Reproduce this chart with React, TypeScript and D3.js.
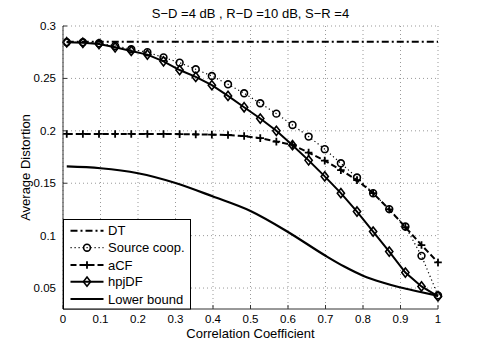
import React, { useEffect, useRef } from "react";
import { select, scaleLinear, line, curveMonotoneX, symbol, symbolCircle } from "d3";

// correlation coefficients where the simulated curves are sampled
const corrX = [
  0.01, 0.053, 0.096, 0.139, 0.182, 0.225, 0.268, 0.311, 0.354, 0.397, 0.44, 0.483,
  0.526, 0.569, 0.612, 0.655, 0.698, 0.741, 0.784, 0.827, 0.87, 0.913, 0.956, 1.0
];

const dtValues = [
  0.285, 0.285, 0.285, 0.285, 0.285, 0.285, 0.285, 0.285, 0.285, 0.285, 0.285, 0.285,
  0.285, 0.285, 0.285, 0.285, 0.285, 0.285, 0.285, 0.285, 0.285, 0.285, 0.285, 0.285
];

const sourceCoopValues = [
  0.2845, 0.2845, 0.2835, 0.281, 0.2778, 0.275, 0.27, 0.265, 0.2587, 0.2523, 0.2444, 0.2358,
  0.2263, 0.2164, 0.2056, 0.1945, 0.1825, 0.169, 0.1554, 0.1405, 0.1253, 0.1087, 0.0807, 0.043
];

const acfValues = [
  0.197, 0.197, 0.197, 0.197, 0.197, 0.197, 0.197, 0.1968, 0.1966, 0.1963, 0.196, 0.195,
  0.193, 0.1897, 0.1866, 0.1792, 0.1716, 0.1625, 0.153, 0.1405, 0.125, 0.108, 0.091, 0.0744
];

const hpjdfValues = [
  0.2845, 0.284, 0.2828, 0.2797, 0.2762, 0.2727, 0.2663, 0.258, 0.2514, 0.2435, 0.2333, 0.2225,
  0.2117, 0.2, 0.1863, 0.1718, 0.1565, 0.1405, 0.123, 0.1039, 0.0848, 0.0648, 0.0515, 0.042
];

// lower bound is a smooth curve without markers
const lowerX = [0.01, 0.1, 0.2, 0.3, 0.4, 0.5, 0.6, 0.7, 0.75, 0.8, 0.85, 0.9, 0.95, 1.0];
const lowerValues = [
  0.166, 0.1643, 0.1595, 0.1502, 0.1373, 0.1235, 0.1035, 0.0808, 0.0705, 0.0618, 0.0555,
  0.0505, 0.0465, 0.0426
];

const xTicks = [0, 0.1, 0.2, 0.3, 0.4, 0.5, 0.6, 0.7, 0.8, 0.9, 1];
const yTicks = [0.05, 0.1, 0.15, 0.2, 0.25, 0.3];

const legendLabels = ["DT", "Source coop.", "aCF", "hpjDF", "Lower bound"];

const WIDTH = 485;
const HEIGHT = 348;
const FONT = "'Liberation Sans', Arial, Helvetica, sans-serif";

function drawMarker(g, kind, x, y) {
  if (kind === "circle") {
    g.append("circle")
      .attr("cx", x)
      .attr("cy", y)
      .attr("r", 3.4)
      .attr("fill", "none")
      .attr("stroke", "#000")
      .attr("stroke-width", 1.6);
  } else if (kind === "plus") {
    g.append("path")
      .attr("d", `M${x - 3.8},${y}H${x + 3.8}M${x},${y - 3.8}V${y + 3.8}`)
      .attr("stroke", "#000")
      .attr("stroke-width", 1.8);
  } else if (kind === "diamond") {
    g.append("path")
      .attr("d", `M${x},${y - 4.6}L${x + 3.6},${y}L${x},${y + 4.6}L${x - 3.6},${y}Z`)
      .attr("fill", "none")
      .attr("stroke", "#000")
      .attr("stroke-width", 1.6);
  }
}

function DistortionChart() {
  const svgRef = useRef(null);

  useEffect(() => {
    const svg = select(svgRef.current);
    svg.selectAll("*").remove();

    const left = 63;
    const right = 438;
    const top = 26;
    const bottom = 309;

    const xScale = scaleLinear().domain([0, 1]).range([left, right]);
    const yScale = scaleLinear().domain([0.03, 0.3]).range([bottom, top]);

    // dotted grid
    const grid = svg.append("g");
    xTicks.forEach(t => {
      grid.append("line")
        .attr("x1", xScale(t)).attr("x2", xScale(t))
        .attr("y1", top).attr("y2", bottom)
        .attr("stroke", "#999").attr("stroke-width", 1)
        .attr("stroke-dasharray", "1,3");
    });
    yTicks.forEach(t => {
      grid.append("line")
        .attr("x1", left).attr("x2", right)
        .attr("y1", yScale(t)).attr("y2", yScale(t))
        .attr("stroke", "#999").attr("stroke-width", 1)
        .attr("stroke-dasharray", "1,3");
    });

    const series = [
      { xs: corrX, ys: dtValues, dash: "7,3,2,3", width: 2, marker: null },
      { xs: corrX, ys: sourceCoopValues, dash: "1.2,2.8", width: 1.2, marker: "circle" },
      { xs: corrX, ys: acfValues, dash: "6,3", width: 2, marker: "plus" },
      { xs: corrX, ys: hpjdfValues, dash: null, width: 2, marker: "diamond" },
      { xs: lowerX, ys: lowerValues, dash: null, width: 2.2, marker: null, smooth: true }
    ];

    series.forEach(s => {
      const pts = s.xs.map((x, i) => [xScale(x), yScale(s.ys[i])]);
      const gen = line();
      if (s.smooth) gen.curve(curveMonotoneX);
      svg.append("path")
        .attr("d", gen(pts))
        .attr("fill", "none")
        .attr("stroke", "#000")
        .attr("stroke-width", s.width)
        .attr("stroke-dasharray", s.dash);
      if (s.marker) {
        const mg = svg.append("g");
        pts.forEach(p => drawMarker(mg, s.marker, p[0], p[1]));
      }
    });

    // axes (no box)
    const axes = svg.append("g");
    axes.append("line")
      .attr("x1", left).attr("x2", left).attr("y1", top).attr("y2", bottom)
      .attr("stroke", "#333").attr("stroke-width", 1);
    axes.append("line")
      .attr("x1", left).attr("x2", right).attr("y1", bottom).attr("y2", bottom)
      .attr("stroke", "#333").attr("stroke-width", 1);

    yTicks.forEach(t => {
      axes.append("line")
        .attr("x1", left).attr("x2", left + 4)
        .attr("y1", yScale(t)).attr("y2", yScale(t))
        .attr("stroke", "#333");
      axes.append("text")
        .attr("x", left - 7)
        .attr("y", yScale(t))
        .attr("dy", "0.35em")
        .attr("text-anchor", "end")
        .attr("font-size", 11.5)
        .attr("font-family", FONT)
        .text(String(t));
    });
    xTicks.forEach(t => {
      axes.append("line")
        .attr("x1", xScale(t)).attr("x2", xScale(t))
        .attr("y1", bottom).attr("y2", bottom - 4)
        .attr("stroke", "#333");
      axes.append("text")
        .attr("x", xScale(t))
        .attr("y", bottom + 14)
        .attr("text-anchor", "middle")
        .attr("font-size", 11.5)
        .attr("font-family", FONT)
        .text(String(t));
    });

    // labels
    svg.append("text")
      .attr("x", (left + right) / 2)
      .attr("y", 18)
      .attr("text-anchor", "middle")
      .attr("font-size", 13)
      .attr("font-family", FONT)
      .text("S\u2212D =4 dB , R\u2212D =10 dB, S\u2212R =4");
    svg.append("text")
      .attr("x", (left + right) / 2)
      .attr("y", 338)
      .attr("text-anchor", "middle")
      .attr("font-size", 13)
      .attr("font-family", FONT)
      .text("Correlation Coefficient");
    svg.append("text")
      .attr("transform", `translate(30, ${(top + bottom) / 2}) rotate(-90)`)
      .attr("text-anchor", "middle")
      .attr("font-size", 13)
      .attr("font-family", FONT)
      .text("Average Distortion");

    // legend
    const legend = svg.append("g");
    legend.append("rect")
      .attr("x", left + 0.5).attr("y", 219.5)
      .attr("width", 127).attr("height", bottom - 219.5)
      .attr("fill", "#fff").attr("stroke", "#000").attr("stroke-width", 1);
    const rowY = [230.7, 247.7, 265, 281.7, 299];
    legendLabels.forEach((label, i) => {
      const s = series[i];
      const y = rowY[i];
      legend.append("line")
        .attr("x1", 70.5).attr("x2", 103.5).attr("y1", y).attr("y2", y)
        .attr("stroke", "#000")
        .attr("stroke-width", s.width)
        .attr("stroke-dasharray", s.dash);
      if (s.marker) drawMarker(legend, s.marker, 87, y);
      legend.append("text")
        .attr("x", 108)
        .attr("y", y)
        .attr("dy", "0.35em")
        .attr("font-size", 13)
        .attr("font-family", FONT)
        .text(label);
    });
  }, []);

  return (
    <svg
      ref={svgRef}
      width={WIDTH}
      height={HEIGHT}
      style={{ position: "absolute", left: 0, top: 0, background: "#fff" }}
    />
  );
}

export default function App() {
  return <DistortionChart />;
}
